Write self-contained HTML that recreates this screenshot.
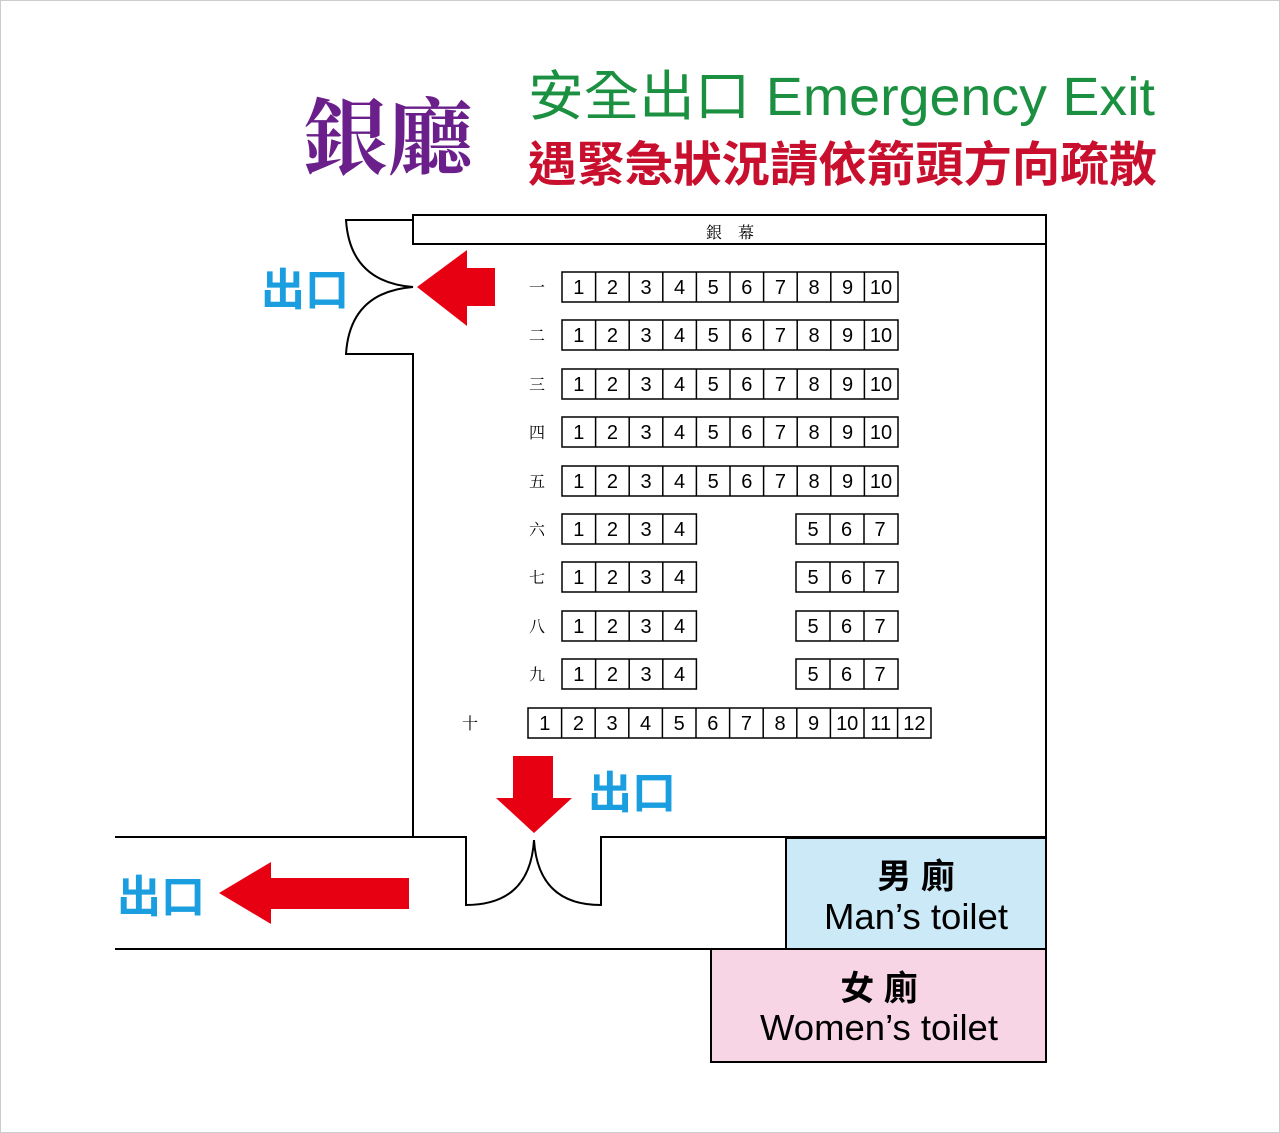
<!DOCTYPE html>
<html><head><meta charset="utf-8"><style>
html,body{margin:0;padding:0;background:#fff}
svg{display:block}
.n{font-family:"Liberation Sans",sans-serif;font-size:20px;fill:#000;text-anchor:middle}
.r{font-family:"Liberation Serif","Noto Serif CJK SC",serif;font-size:16px;fill:#000;text-anchor:middle}
.b{font-family:"Liberation Sans","Noto Sans CJK TC",sans-serif;font-weight:bold;font-size:44px;fill:#1a9ee0}
</style></head><body>
<svg width="1280" height="1133" viewBox="0 0 1280 1133" xmlns="http://www.w3.org/2000/svg">
<defs>
<g id="s10" fill="none" stroke="#000" stroke-width="1.5"><rect x="562" y="0" width="336" height="30"/><path d="M595.6 0v30M629.2 0v30M662.8 0v30M696.4 0v30M730 0v30M763.6 0v30M797.2 0v30M830.8 0v30M864.4 0v30"/></g>
<g id="s7" fill="none" stroke="#000" stroke-width="1.5"><rect x="562" y="0" width="134.4" height="30"/><path d="M595.6 0v30M629.2 0v30M662.8 0v30"/><rect x="796" y="0" width="102" height="30"/><path d="M830 0v30M864 0v30"/></g>
</defs>
<rect x="0.5" y="0.5" width="1279" height="1132" fill="none" stroke="#ccc"/>
<text x="303" y="168" font-family="Liberation Serif,'Noto Serif CJK TC',serif" font-weight="bold" font-size="84" fill="#6a1f8a" textLength="170" lengthAdjust="spacingAndGlyphs">銀廳</text>
<text x="528" y="115" font-family="Liberation Sans,'Noto Sans CJK TC',sans-serif" font-size="54" fill="#1a9040" textLength="627" lengthAdjust="spacingAndGlyphs">安全出口 Emergency Exit</text>
<text x="528" y="181" font-family="Liberation Sans,'Noto Sans CJK TC',sans-serif" font-weight="bold" font-size="48" fill="#c8102e" textLength="629" lengthAdjust="spacingAndGlyphs">遇緊急狀況請依箭頭方向疏散</text>
<g fill="none" stroke="#000" stroke-width="2">
<rect x="413" y="215" width="633" height="29"/>
<path d="M413 220H346Q350 282 413 287Q350 292 346 354H413V837"/>
<path d="M1046 244V838"/>
<path d="M115 837H466V905Q530 905 534 840Q538 905 601 905V837H1046"/>
<path d="M115 949H1046"/>
</g>
<text x="730" y="238" class="r" font-size="21">銀　幕</text>
<rect x="786" y="838" width="260" height="111" fill="#cce9f8" stroke="#000" stroke-width="2"/>
<rect x="711" y="949" width="335" height="113" fill="#f8d5e5" stroke="#000" stroke-width="2"/>
<text x="916" y="888" font-family="Liberation Sans,'Noto Sans CJK TC',sans-serif" font-weight="bold" font-size="34" text-anchor="middle">男 廁</text>
<text x="824" y="929" font-family="Liberation Sans,sans-serif" font-size="36" textLength="184" lengthAdjust="spacingAndGlyphs">Man’s toilet</text>
<text x="879" y="1000" font-family="Liberation Sans,'Noto Sans CJK TC',sans-serif" font-weight="bold" font-size="34" text-anchor="middle">女 廁</text>
<text x="760" y="1040" font-family="Liberation Sans,sans-serif" font-size="36" textLength="238" lengthAdjust="spacingAndGlyphs">Women’s toilet</text>
<g fill="#e60012">
<path d="M417 287L467 250V268H495V306H467V326Z"/>
<path d="M513 756H553V798H572L534 833L496 798H513Z"/>
<path d="M219 893L271 862V878H409V909H271V924Z"/>
</g>
<text x="261" y="305" class="b">出口</text>
<text x="588" y="808" class="b">出口</text>
<text x="117" y="912" class="b">出口</text>
<use href="#s10" y="272"/><use href="#s10" y="320"/><use href="#s10" y="369"/><use href="#s10" y="417"/><use href="#s10" y="466"/>
<use href="#s7" y="514"/><use href="#s7" y="562"/><use href="#s7" y="611"/><use href="#s7" y="659"/>
<g fill="none" stroke="#000" stroke-width="1.5"><rect x="528" y="708" width="403" height="30"/><path d="M561.6 708v30M595.2 708v30M628.8 708v30M662.4 708v30M696 708v30M729.6 708v30M763.2 708v30M796.8 708v30M830.4 708v30M864 708v30M897.6 708v30"/></g>
<text class="r" x="537" y="293">一</text><text class="r" x="537" y="341">二</text><text class="r" x="537" y="390">三</text><text class="r" x="537" y="438">四</text><text class="r" x="537" y="487">五</text><text class="r" x="537" y="535">六</text><text class="r" x="537" y="583">七</text><text class="r" x="537" y="632">八</text><text class="r" x="537" y="680">九</text><text class="r" x="470" y="729">十</text>
<text class="n" x="578.8 612.4 646 679.6 713.2 746.8 780.4 814 847.6" y="294">123456789</text><text class="n" x="881" y="294">10</text>
<text class="n" x="578.8 612.4 646 679.6 713.2 746.8 780.4 814 847.6" y="342">123456789</text><text class="n" x="881" y="342">10</text>
<text class="n" x="578.8 612.4 646 679.6 713.2 746.8 780.4 814 847.6" y="391">123456789</text><text class="n" x="881" y="391">10</text>
<text class="n" x="578.8 612.4 646 679.6 713.2 746.8 780.4 814 847.6" y="439">123456789</text><text class="n" x="881" y="439">10</text>
<text class="n" x="578.8 612.4 646 679.6 713.2 746.8 780.4 814 847.6" y="488">123456789</text><text class="n" x="881" y="488">10</text>
<text class="n" x="578.8 612.4 646 679.6 813 846.5 880" y="536">1234567</text>
<text class="n" x="578.8 612.4 646 679.6 813 846.5 880" y="584">1234567</text>
<text class="n" x="578.8 612.4 646 679.6 813 846.5 880" y="633">1234567</text>
<text class="n" x="578.8 612.4 646 679.6 813 846.5 880" y="681">1234567</text>
<text class="n" x="544.8 578.4 612 645.6 679.2 712.8 746.4 780 813.6" y="730">123456789</text><text class="n" x="847.2" y="730">10</text><text class="n" x="880.8" y="730">11</text><text class="n" x="914.4" y="730">12</text>
</svg>
</body></html>
